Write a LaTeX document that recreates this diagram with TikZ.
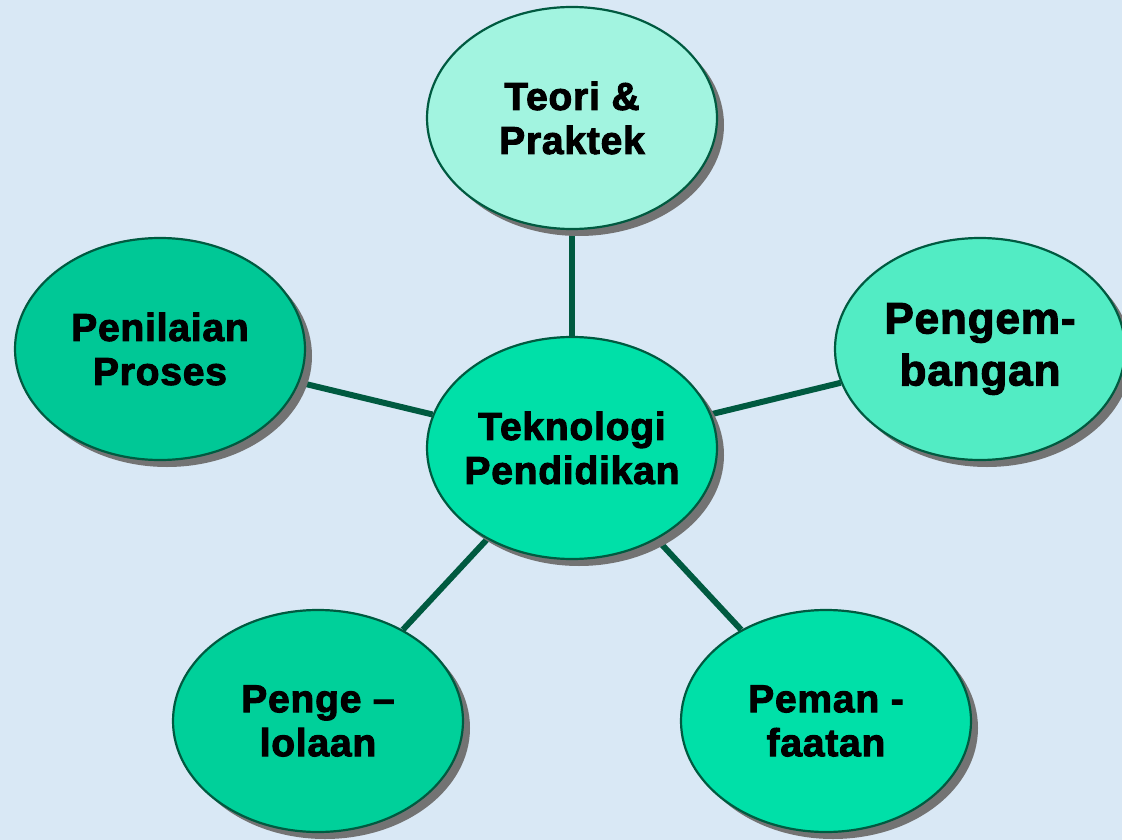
\documentclass[tikz,border=0pt]{standalone}
\usepackage{fontspec}
\setmainfont{Liberation Sans}[LetterSpace=2,BoldFeatures={FakeBold=2.5}]
\usetikzlibrary{shapes.geometric,shadows,backgrounds}
\definecolor{bgblue}{HTML}{D9E8F5}
\definecolor{linkgreen}{HTML}{005A40}
\definecolor{mintlight}{HTML}{A2F4E0}
\definecolor{mintmid}{HTML}{52ECC4}
\definecolor{mintdark}{HTML}{00C896}
\definecolor{mintbl}{HTML}{00D09A}
\definecolor{mintcore}{HTML}{00E0A8}
\begin{document}
\begin{tikzpicture}[x=1pt,y=-1pt,
  bubble/.style={ellipse, draw=linkgreen, line width=2.2pt, minimum width=290pt,
    minimum height=222pt, inner sep=0pt,
    drop shadow={shadow xshift=7pt, shadow yshift=-7pt, fill=black!55, opacity=1}},
  tag/.style={align=center, inner sep=0pt, font=\fontsize{39}{44}\selectfont\bfseries},
  bigtag/.style={tag, font=\fontsize{44}{52}\selectfont\bfseries},
  link/.style={draw=linkgreen, line width=6pt}]
\useasboundingbox (0,0) rectangle (1122,840);
\node[bubble, fill=mintlight, label={[tag]center:Teori \&\\Praktek}] (teori) at (572,118) {};
\node[bubble, fill=mintdark, label={[tag]center:Penilaian\\Proses}] (nilai) at (160,349) {};
\node[bubble, fill=mintmid, label={[bigtag]center:Pengem-\\bangan}] (kembang) at (980,349) {};
\node[bubble, fill=mintcore, label={[tag]center:Teknologi\\Pendidikan}] (tekno) at (572,448) {};
\node[bubble, fill=mintbl, label={[tag]center:Penge --\\lolaan}] (kelola) at (318,721) {};
\node[bubble, fill=mintcore, label={[tag]center:Peman -\\faatan}] (manfaat) at (826,721) {};
\begin{scope}[on background layer]
\fill[bgblue] (0,0) rectangle (1122,840);
\foreach \n in {teori,nilai,kembang,kelola,manfaat}
\draw[link] (tekno) -- (\n);
\end{scope}
\end{tikzpicture}
\end{document}
